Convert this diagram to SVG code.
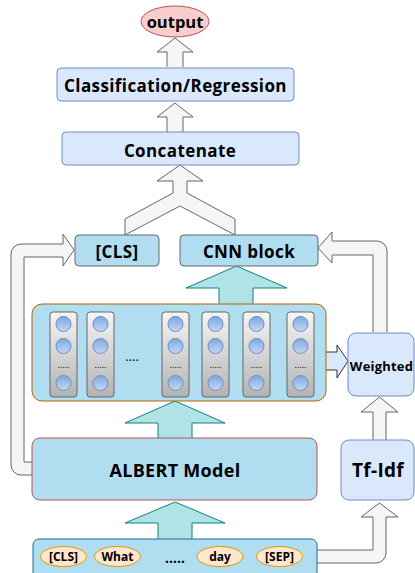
<svg xmlns="http://www.w3.org/2000/svg" width="415" height="573" viewBox="0 0 415 573">
<style>
text{font-family:"Open Sans","DejaVu Sans",sans-serif;font-weight:bold;fill:#000;text-anchor:middle;dominant-baseline:central}
.gray{fill:#f5f5f5;stroke:#666;stroke-width:1}
.teal{fill:#b0e3e6;stroke:#0e8088;stroke-width:1}
.blue{fill:#dae8fc;stroke:#6c8ebf;stroke-width:1}
.lb{fill:#b1ddf0;stroke:#666;stroke-width:1}
.col{fill:url(#colg);stroke:#666;stroke-width:1}
.cir{fill:url(#cirg);stroke:#6c8ebf;stroke-width:1}
.tok{fill:#ffe6cc;stroke:#d79b00;stroke-width:1}
.t17{font-size:17px;letter-spacing:0.4px}
.t12{font-size:12px}
.dots{font-size:9px;font-weight:normal}
</style>
<defs>
<linearGradient id="colg" x1="0" y1="0" x2="0" y2="1">
<stop offset="0" stop-color="#f5f5f5"/>
<stop offset="1" stop-color="#b3b3b3"/>
</linearGradient>
<linearGradient id="cirg" x1="0" y1="0" x2="0" y2="1">
<stop offset="0" stop-color="#7ea6e0"/>
<stop offset="1" stop-color="#c4d8f5"/>
</linearGradient>
</defs>

<g id="connectors">
<path class="gray" d="M167,67 L167,52 L157,52 L175,38 L193,52 L183,52 L183,67"/>
<path class="gray" d="M167,132 L167,117 L157,117 L175,103 L193,117 L183,117 L183,132"/>
<path class="gray" d="M125,235 L125,219 L173,193 L173,181 L157,181 L180,165 L203,181 L187,181 L187,193 L235,219 L235,235 L180,206 Z"/>
<path class="teal" d="M219,304 L219,288 L186,288 L236.5,266 L287,288 L253,288 L253,304"/>
<path class="teal" d="M158,438 L158,423 L125,423 L175,401 L225,423 L192,423 L192,438"/>
<path class="teal" d="M158,539 L158,523 L125,523 L175,502 L225,523 L192,523 L192,539"/>
<path d="M326,352 L337,352 L337,345 L348,361 L337,378 L337,370 L326,370" fill="#dae8fc" stroke="#333" stroke-width="1"/>
<path class="gray" d="M32,475 L21,475 A10,10 0 0 1 11,465 L11,254 A10,10 0 0 1 21,244 L63,244 L63,234 L74,250 L63,266 L63,257 L24,257 L24,462 L32,462"/>
<path class="gray" d="M373,332 L373,255 L332,255 L332,263 L318,248 L332,232 L332,241 L377,241 A10,10 0 0 1 387,251 L387,332"/>
<path class="gray" d="M373,440 L373,412 L361,412 L379.5,397 L398,412 L386,412 L386,440"/>
<path class="gray" d="M317,550 L373,550 L373,517 L361,517 L379.5,503 L398,517 L386,517 L386,553 A10,10 0 0 1 376,563 L317,563"/>
</g>

<g id="output">
<ellipse cx="175" cy="21.5" rx="34" ry="15.5" fill="#f8cecc" stroke="#b85450"/>
<text x="175" y="21" style="font-size:16.5px">output</text>
</g>

<g id="classification">
<rect x="57" y="68" width="237" height="33" rx="4" class="blue"/>
<text x="175.5" y="85" class="t17">Classification/Regression</text>
</g>

<g id="concatenate">
<rect x="62" y="132" width="237" height="33" rx="4" class="blue"/>
<text x="180" y="150" class="t17">Concatenate</text>
</g>

<g id="cls">
<rect x="75" y="235" width="84" height="31" rx="4" class="lb"/>
<text x="117" y="251" class="t17">[CLS]</text>
</g>

<g id="cnn">
<rect x="180" y="235" width="138" height="31" rx="4" class="lb"/>
<text x="249" y="251" class="t17">CNN block</text>
</g>

<g id="sequence">
<rect x="32" y="304" width="294" height="97" rx="10" fill="#b1ddf0" stroke="#b46504"/>
<g>
<rect x="50" y="312" width="27" height="85" rx="3" class="col"/>
<rect x="87" y="312" width="27" height="85" rx="3" class="col"/>
<rect x="162" y="312" width="27" height="85" rx="3" class="col"/>
<rect x="202" y="312" width="27" height="85" rx="3" class="col"/>
<rect x="243" y="312" width="27" height="85" rx="3" class="col"/>
<rect x="287" y="312" width="27" height="85" rx="3" class="col"/>
</g>
<g>
<circle cx="63.5" cy="324" r="7.5" class="cir"/><circle cx="63.5" cy="346" r="7.5" class="cir"/><circle cx="63.5" cy="383" r="7.5" class="cir"/>
<circle cx="100.5" cy="324" r="7.5" class="cir"/><circle cx="100.5" cy="346" r="7.5" class="cir"/><circle cx="100.5" cy="383" r="7.5" class="cir"/>
<circle cx="175.5" cy="324" r="7.5" class="cir"/><circle cx="175.5" cy="346" r="7.5" class="cir"/><circle cx="175.5" cy="383" r="7.5" class="cir"/>
<circle cx="215.5" cy="324" r="7.5" class="cir"/><circle cx="215.5" cy="346" r="7.5" class="cir"/><circle cx="215.5" cy="383" r="7.5" class="cir"/>
<circle cx="256.5" cy="324" r="7.5" class="cir"/><circle cx="256.5" cy="346" r="7.5" class="cir"/><circle cx="256.5" cy="383" r="7.5" class="cir"/>
<circle cx="300.5" cy="324" r="7.5" class="cir"/><circle cx="300.5" cy="346" r="7.5" class="cir"/><circle cx="300.5" cy="383" r="7.5" class="cir"/>
</g>
<g class="dots">
<text x="63.5" y="364" class="dots">.....</text>
<text x="100.5" y="364" class="dots">.....</text>
<text x="175.5" y="364" class="dots">.....</text>
<text x="215.5" y="364" class="dots">.....</text>
<text x="256.5" y="364" class="dots">.....</text>
<text x="300.5" y="364" class="dots">.....</text>
</g>
<text x="132" y="356" style="font-size:13px;font-weight:normal">....</text>
</g>

<g id="weighted">
<rect x="348" y="333" width="66" height="63" rx="8" class="blue"/>
<text x="381.5" y="366" style="font-size:13px;letter-spacing:0.2px">Weighted</text>
</g>

<g id="albert">
<rect x="32" y="438" width="285" height="62" rx="8" fill="#b1ddf0" stroke="#b85450"/>
<text x="175" y="470" style="font-size:18px;letter-spacing:0.3px">ALBERT Model</text>
</g>

<g id="tfidf">
<rect x="341" y="440" width="73" height="60" rx="8" class="blue"/>
<text x="378" y="470" style="font-size:19px;letter-spacing:0.3px">Tf-Idf</text>
</g>

<g id="input">
<rect x="33" y="539" width="284" height="40" rx="6" fill="#b1ddf0" stroke="#10739e"/>
<ellipse cx="63.5" cy="556.5" rx="23" ry="10" class="tok"/>
<text x="63.5" y="556.5" class="t12">[CLS]</text>
<ellipse cx="117.5" cy="556.5" rx="23" ry="10" class="tok"/>
<text x="117.5" y="556.5" class="t12">What</text>
<text x="175" y="557" style="font-size:14px">.....</text>
<ellipse cx="220" cy="556.5" rx="23" ry="10" class="tok"/>
<text x="220" y="556.5" class="t12">day</text>
<ellipse cx="279.5" cy="556.5" rx="23" ry="10" class="tok"/>
<text x="279.5" y="556.5" class="t12">[SEP]</text>
</g>
</svg>
